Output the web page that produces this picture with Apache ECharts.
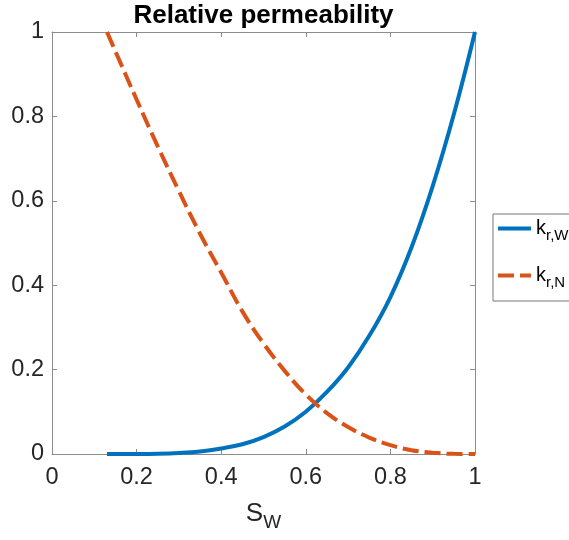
<!DOCTYPE html>
<html>
<head>
<meta charset="utf-8">
<script src="https://cdn.jsdelivr.net/npm/echarts@6/dist/echarts.min.js"></script>
<style>
  html, body { margin: 0; padding: 0; background: #fff; }
  #chart { width: 569px; height: 540px; }
</style>
</head>
<body>
<div id="chart"></div>
<script>
// Water saturation samples and relative permeability of each phase
const sw  = [0.13, 0.15, 0.2, 0.25, 0.3, 0.35, 0.4, 0.45, 0.5, 0.55, 0.6, 0.65, 0.7, 0.75, 0.8, 0.85, 0.9, 0.95, 1.0];
const krW = [0, 0, 0.0001, 0.0007, 0.0025, 0.006, 0.013, 0.023, 0.04, 0.065, 0.1, 0.147, 0.205, 0.28, 0.372, 0.49, 0.635, 0.805, 1];
const krN = [1, 0.954, 0.84, 0.729, 0.623, 0.522, 0.43, 0.338, 0.262, 0.197, 0.141, 0.097, 0.064, 0.039, 0.021, 0.009, 0.003, 0.0004, 0];
const xTicks = [0, 0.2, 0.4, 0.6, 0.8, 1];
const yTicks = [0, 0.2, 0.4, 0.6, 0.8, 1];

const FONT = '"Liberation Sans", Arial, Helvetica, sans-serif';
const AXIS_COLOR = '#8c8c8c';
const TEXT_COLOR = '#262626';
const BLUE = '#0072BD';
const RED = '#D95319';

const pairs = (xs, ys) => xs.map((x, i) => [x, ys[i]]);

const chart = echarts.init(document.getElementById('chart'), null, { renderer: 'canvas' });

const baseAxis = {
  type: 'value',
  min: 0,
  max: 1,
  interval: 0.2,
  axisLine: { show: true, onZero: false, lineStyle: { color: AXIS_COLOR, width: 1 } },
  axisTick: { show: true, inside: true, length: 5, lineStyle: { color: AXIS_COLOR, width: 1 } },
  splitLine: { show: false }
};

const labelStyle = { color: TEXT_COLOR, fontFamily: FONT, fontSize: 23.5 };

chart.setOption({
  animation: false,
  backgroundColor: '#fff',
  grid: { left: 52, right: 94, top: 32, bottom: 86, containLabel: false },
  graphic: [{
    type: 'text',
    x: 263.5,
    y: 15.5,
    style: {
      text: 'Relative permeability',
      fill: '#000',
      font: 'bold 26px ' + FONT,
      align: 'center',
      verticalAlign: 'middle'
    }
  }],
  xAxis: [
    Object.assign({}, baseAxis, {
      position: 'bottom',
      axisLabel: Object.assign({ margin: 12, formatter: v => xTicks.includes(v) ? String(v) : '' }, labelStyle),
      name: '{s|S}{w|W}',
      nameLocation: 'middle',
      nameGap: 40,
      nameTextStyle: {
        rich: {
          s: { fontFamily: FONT, fontSize: 26, color: TEXT_COLOR, lineHeight: 26 },
          w: { fontFamily: FONT, fontSize: 19, color: TEXT_COLOR, lineHeight: 8, padding: [18, 0, 0, 0] }
        }
      }
    }),
    Object.assign({}, baseAxis, { position: 'top', axisLabel: { show: false } })
  ],
  yAxis: [
    Object.assign({}, baseAxis, {
      position: 'left',
      axisLabel: Object.assign({ margin: 8, formatter: v => yTicks.includes(v) ? String(v) : '' }, labelStyle)
    }),
    Object.assign({}, baseAxis, { position: 'right', axisLabel: { show: false } })
  ],
  legend: {
    orient: 'vertical',
    left: 493,
    top: 214,
    padding: [0, 12, 11, 3],
    itemGap: 18,
    itemWidth: 33,
    itemHeight: 20,
    borderColor: '#777',
    borderWidth: 1,
    backgroundColor: '#fff',
    itemStyle: { color: 'rgba(0,0,0,0)', borderWidth: 0 },
    lineStyle: { width: 4 },
    data: ['kr,W', 'kr,N'],
    formatter: name => '{k|k}{s|' + name.slice(1) + '}',
    textStyle: {
      rich: {
        k: { fontFamily: FONT, fontSize: 20, color: '#000', lineHeight: 20 },
        s: { fontFamily: FONT, fontSize: 15, color: '#000', lineHeight: 6, padding: [14, 0, 0, 0] }
      }
    }
  },
  series: [
    {
      name: 'kr,W',
      type: 'line',
      data: pairs(sw, krW),
      showSymbol: false,
      symbol: 'none',
      smooth: 0.4,
      clip: false,
      lineStyle: { color: BLUE, width: 4 },
      itemStyle: { color: BLUE }
    },
    {
      name: 'kr,N',
      type: 'line',
      data: pairs(sw, krN),
      showSymbol: false,
      symbol: 'none',
      smooth: 0.4,
      clip: false,
      lineStyle: { color: RED, width: 4, type: [16, 6] },
      itemStyle: { color: RED }
    }
  ]
});
</script>
</body>
</html>
